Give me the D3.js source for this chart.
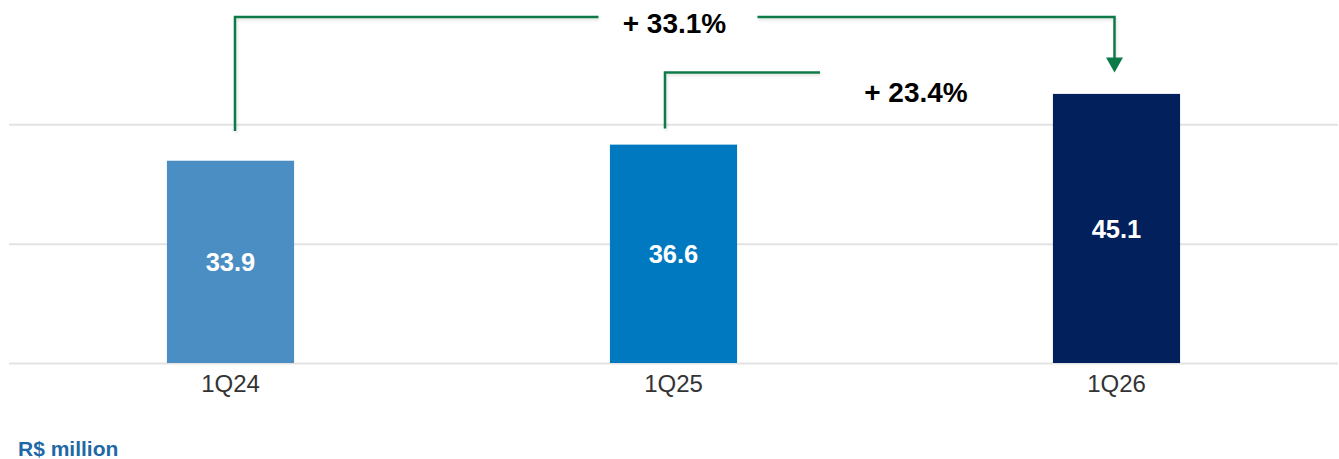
<!DOCTYPE html>
<html>
<head>
<meta charset="utf-8">
<script src="https://cdn.jsdelivr.net/npm/d3@7"></script>
<style>
  html, body { margin: 0; padding: 0; background: #ffffff; }
  svg { display: block; font-family: "Liberation Sans", Arial, sans-serif; }
</style>
</head>
<body>
<svg id="chart" width="1339" height="459"></svg>
<script>
// ---- data ----
const categories = ["1Q24", "1Q25", "1Q26"];
const values = [33.9, 36.6, 45.1];
const valueLabels = ["33.9", "36.6", "45.1"];
const barColors = ["#4a8ec4", "#0079c0", "#02205c"];
const gridTicks = [0, 20, 40];
const growthLabels = ["+ 33.1%", "+ 23.4%"];
const unitLabel = "R$ million";

// ---- layout ----
const W = 1339, H = 459;
const svg = d3.select("#chart");

const x = d3.scaleBand()
  .domain(categories)
  .range([9, 1338])
  .paddingInner(0.713)
  .paddingOuter(0.3565);

const y = d3.scaleLinear()
  .domain([0, 60])
  .range([363, 5]);

// shadow filter for connector lines
const defs = svg.append("defs");
const f = defs.append("filter").attr("id", "sh").attr("x", "-5%").attr("y", "-20%").attr("width", "110%").attr("height", "140%");
f.append("feDropShadow").attr("dx", 1).attr("dy", 2).attr("stdDeviation", 1.5).attr("flood-color", "#000").attr("flood-opacity", 0.12);

// gridlines
const yAxis = d3.axisLeft(y).tickValues(gridTicks).tickSize(-(1338 - 9)).tickFormat("");
const gAxis = svg.append("g").attr("transform", "translate(9,0)").call(yAxis);
gAxis.select(".domain").remove();
gAxis.selectAll(".tick line").attr("stroke", "#e3e3e3").attr("stroke-width", 2);

// bars
svg.append("g").selectAll("rect")
  .data(values)
  .join("rect")
  .attr("x", (d, i) => x(categories[i]))
  .attr("y", d => y(d))
  .attr("width", x.bandwidth())
  .attr("height", d => y(0) - y(d))
  .attr("fill", (d, i) => barColors[i]);

// value labels
svg.append("g").selectAll("text")
  .data(values)
  .join("text")
  .attr("x", (d, i) => x(categories[i]) + x.bandwidth() / 2)
  .attr("y", d => (y(d) + y(0)) / 2)
  .attr("dy", "0.36em")
  .attr("text-anchor", "middle")
  .attr("fill", "#ffffff")
  .attr("font-weight", "bold")
  .attr("font-size", 25.5)
  .text((d, i) => valueLabels[i]);

// category axis labels
const xAxis = d3.axisBottom(x).tickSize(0).tickPadding(0);
const gx = svg.append("g").attr("transform", `translate(0,${y(0)})`).call(xAxis);
gx.select(".domain").remove();
gx.selectAll("text")
  .attr("y", 29)
  .attr("dy", 0)
  .attr("font-size", 24)
  .attr("font-family", "Liberation Sans, Arial, sans-serif")
  .attr("fill", "#333333");

// ---- growth connectors ----
const green = "#0b7a47";
const cx = c => x(c) + x.bandwidth() / 2;
const g = svg.append("g").attr("fill", "none").attr("stroke", green).attr("stroke-width", 2.5).attr("filter", "url(#sh)");

// 1Q24 -> 1Q26
const a0 = cx(categories[0]) + 4.5;
const a2 = cx(categories[2]) - 2;
const top1 = y(58);
const t1x = cx(categories[1]) + 1;
g.append("path").attr("d", `M${a0},${y(38.9)} V${top1} H${t1x - 76}`);
g.append("path").attr("d", `M${t1x + 83},${top1} H${a2} V${y(51)}`);
svg.append("path")
  .attr("d", `M${a2 - 8.5},${y(51.2)} L${a2 + 8.5},${y(51.2)} L${a2},${y(48.7)} Z`)
  .attr("fill", green);

svg.append("text")
  .attr("x", t1x).attr("y", 33)
  .attr("text-anchor", "middle")
  .attr("font-weight", "bold").attr("font-size", 28).attr("fill", "#000")
  .text(growthLabels[0]);

// 1Q25 -> 1Q26
const b1 = cx(categories[1]) - 8.5;
const top2 = y(48.7);
g.append("path").attr("d", `M${b1},${y(39.3)} V${top2} H${b1 + 155}`);
svg.append("text")
  .attr("x", (cx(categories[1]) + cx(categories[2])) / 2 + 21)
  .attr("y", 102)
  .attr("text-anchor", "middle")
  .attr("font-weight", "bold").attr("font-size", 28).attr("fill", "#000")
  .text(growthLabels[1]);

// unit label
svg.append("text")
  .attr("x", 18).attr("y", 456)
  .attr("font-weight", "bold").attr("font-size", 21).attr("fill", "#1f69a6")
  .text(unitLabel);
</script>
</body>
</html>
